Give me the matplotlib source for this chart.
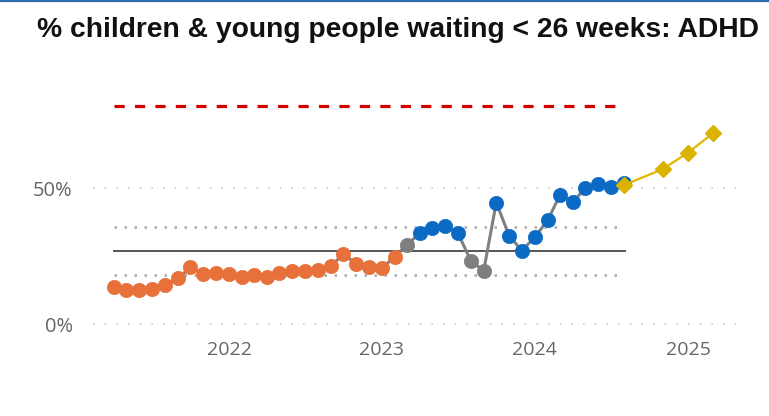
import matplotlib
matplotlib.use("Agg")
import matplotlib.pyplot as plt
import matplotlib.dates as mdates
import numpy as np
from datetime import date

# ---- data ----
start_year, start_month = 2021, 4
values = [13.7, 12.5, 12.5, 12.7, 14.3, 16.8, 20.8, 18.4, 18.6,
          18.4, 17.2, 18.0, 17.4, 18.9, 19.6, 19.6, 19.9, 21.3, 25.7, 22.1, 20.8,
          20.5, 24.8, 29.0, 33.3, 35.2, 36.0, 33.6, 23.3, 19.6, 44.6, 32.4, 27.0,
          31.9, 38.2, 47.4, 45.0, 49.9, 51.5, 50.3, 51.7]
status = (["concern"] * 23 + ["common"] + ["improve"] * 4 + ["common"] * 2
          + ["improve"] * 11)
forecast_dates = [date(2024, 8, 1), date(2024, 11, 1), date(2025, 1, 1), date(2025, 3, 1)]
forecast_values = [51.1, 56.9, 63.0, 70.1]
target = 80.0
mean_value = 26.9
upper_limit = 35.8
lower_limit = 18.0
title = "% children & young people waiting < 26 weeks: ADHD"
ytick_values = [0, 50]
ytick_labels = ["0%", "50%"]
xtick_dates = [date(2022, 1, 1), date(2023, 1, 1), date(2024, 1, 1), date(2025, 1, 1)]
xtick_labels = ["2022", "2023", "2024", "2025"]

dates = []
y, m = start_year, start_month
for _ in values:
    dates.append(date(y, m, 1))
    m += 1
    if m > 12:
        m = 1
        y += 1

colors = {"concern": "#E8703A", "common": "#7F7F7F", "improve": "#0B6BC4"}

W, H = 769, 416
fig = plt.figure(figsize=(W / 100, H / 100), dpi=100)
fig.patch.set_facecolor("white")

# top blue bar
fig.add_artist(plt.Line2D([0, 1], [1 - 1 / H, 1 - 1 / H], color="#2E6DB4", lw=1.6,
                          transform=fig.transFigure))

fig.text(397.5 / W, 1 - 37 / H, title, ha="center", va="baseline", fontsize=20.3,
         fontweight="bold", family="Liberation Sans", color="#111111")

left, right, top, bottom = 93, 737, 80, 337
ax = fig.add_axes([left / W, 1 - bottom / H, (right - left) / W, (bottom - top) / H])

# y scale: 0 -> 324 px, 50 -> 188 px
ppu = (324 - 188) / 50
ax.set_ylim((324 - bottom) / ppu, (324 - top) / ppu)
x0 = mdates.date2num(date(2022, 1, 1))
ppd = 153.0 / 365.25
ax.set_xlim(x0 - (229 - left) / ppd, x0 + (right - 229) / ppd)

for s in ax.spines.values():
    s.set_visible(False)

ax.set_yticks(ytick_values)
ax.set_yticklabels(ytick_labels)
ax.set_xticks([mdates.date2num(d) for d in xtick_dates])
ax.set_xticklabels(xtick_labels)
ax.tick_params(length=0, labelsize=14, labelcolor="#666666")
for lab in ax.get_xticklabels() + ax.get_yticklabels():
    lab.set_family("Open Sans")
ax.tick_params(axis="x", pad=3)
ax.tick_params(axis="y", pad=14.5, labelsize=14.5)

for v in ytick_values:
    ax.axhline(v, color="#CDCDCD", lw=1.2, ls=(0, (1, 6)), zorder=0)

xd = [mdates.date2num(d) for d in dates]
xs, xe = xd[0], xd[-1]
ax.plot([xs, xe], [target, target], color="#D40000", lw=2.3, ls=(0, (3.2, 3.2)), zorder=1)
ax.plot([xs, xe], [upper_limit, upper_limit], color="#A8A8A8", lw=1.8, ls=(0, (1, 3)), zorder=1)
ax.plot([xs, xe], [lower_limit, lower_limit], color="#A8A8A8", lw=1.8, ls=(0, (1, 3)), zorder=1)
ax.plot([xs, xe + 2], [mean_value, mean_value], color="#555555", lw=1.4, zorder=1)

ax.plot(xd, values, color="#808080", lw=2.2, zorder=2)
for xi, vi, st in zip(xd, values, status):
    ax.plot([xi], [vi], marker="o", ms=10.3, color=colors[st], mec=colors[st], mew=0.5,
            zorder=3, ls="none")

fx = [mdates.date2num(d) for d in forecast_dates]
ax.plot(fx, forecast_values, color="#E0B800", lw=1.6, marker="D", ms=8,
        mfc="#D9B300", mec="#D9B300", zorder=4)

fig.savefig("out.png", dpi=100)
